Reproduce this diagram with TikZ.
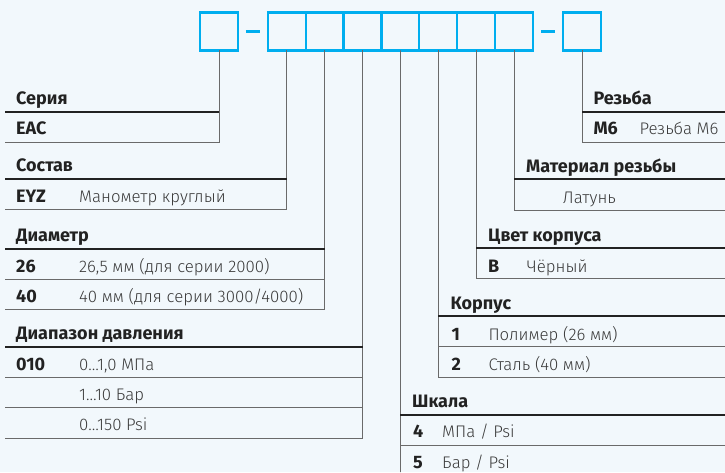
\documentclass[tikz,border=0pt]{standalone}
\usepackage{fontspec}
\setmainfont{Fira Sans}
\newfontfamily\lightf{Fira Sans Light}
\usetikzlibrary{positioning,calc}
\definecolor{bgC}{HTML}{F2F8FC}
\definecolor{cyanB}{HTML}{00AEEF}
\definecolor{ruleC}{HTML}{6A6A6A}
\definecolor{ink}{HTML}{222222}
\definecolor{soft}{HTML}{3A3A3A}
\newcommand{\ttlf}{\fontsize{18}{20}\selectfont\bfseries}
\newcommand{\valf}{\fontsize{16.8}{20}\selectfont\lightf}
\tikzset{
  cell/.style={draw=cyanB, line width=2.2pt, minimum size=37.9pt, inner sep=0pt, outer sep=0pt},
  dsh/.style={draw=cyanB, line width=2.4pt},
  frm/.style={draw=ruleC, line width=0.8pt},
  hdr/.style={draw=ink, line width=1.8pt},
  ttl/.style={anchor=base west, inner sep=0pt, font=\ttlf, text=ink},
  code/.style={anchor=base west, inner sep=0pt, font=\ttlf, text=ink},
  val/.style={anchor=base west, inner sep=0pt, font=\valf, text=soft},
}
\begin{document}
\begin{tikzpicture}[x=1pt, y=-1pt]
\useasboundingbox[fill=bgC] (0,0) rectangle (725,472);

% ── code boxes ──────────────────────────────────────────────────────────────
\node[cell] (b0) at (219,31.5) {};
\node[cell] (b1) at (286.7,31.5) {};
\node[cell, right=0pt of b1] (b2) {};
\node[cell, right=0pt of b2] (b3) {};
\node[cell, right=0pt of b3] (b4) {};
\node[cell, right=0pt of b4] (b5) {};
\node[cell, right=0pt of b5] (b6) {};
\node[cell, right=0pt of b6] (b7) {};
\node[cell] (b8) at (582,31.5) {};
\draw[dsh] ($(b0.east)+(8,0)$) -- ($(b1.west)+(-8,0)$);
\draw[dsh] ($(b7.east)+(8,0)$) -- ($(b8.west)+(-8,0)$);

% ── left tables ─────────────────────────────────────────────────────────────
% series
\coordinate (serE) at (5,142);
\draw[frm] (b0.south) |- (serE);
\draw[hdr] (5,111.7) -- (219,111.7);
\node[ttl] (serT) at (16,104) {Серия};
\node[code] (serC) at (16,134.5) {EAC};

% composition
\coordinate (sosE) at (5,209.3);
\draw[frm] (b1.south) |- (sosE);
\draw[hdr] (5,179.3) -- (286.7,179.3);
\node[ttl] (sosT) at (16,171.8) {Состав};
\node[code] (sosC) at (16,202) {EYZ};
\node[val] (sosV) at (79,202) {Манометр круглый};

% diameter
\coordinate (diaE) at (5,309);
\draw[frm] (b2.south) |- (diaE);
\draw[hdr] (5,249) -- (324.6,249);
\draw[frm] (5,279.3) -- (324.6,279.3);
\node[ttl] (diaT) at (16,241.3) {Диаметр};
\node[code] (diaC1) at (16,272.3) {26};
\node[val] (diaV1) at (79,272.3) {26,5 мм (для серии 2000)};
\node[code] (diaC2) at (16,302) {40};
\node[val] (diaV2) at (79,302) {40 мм (для серии 3000/4000)};

% pressure range
\coordinate (prsE) at (5,438.3);
\draw[frm] (b3.south) |- (prsE);
\draw[hdr] (5,347) -- (362.5,347);
\draw[frm] (5,377.3) -- (362.5,377.3);
\draw[frm] (5,407.7) -- (362.5,407.7);
\node[ttl] (prsT) at (16,339.7) {Диапазон давления};
\node[code] (prsC) at (16,370) {010};
\node[val] (prsV1) at (79,370) {0…1,0 МПа};
\node[val] (prsV2) at (79,400.3) {1…10 Бар};
\node[val] (prsV3) at (79,430.7) {0…150 Psi};

% ── right tables ────────────────────────────────────────────────────────────
% scale
\coordinate (sclE) at (400.4,472);
\draw[frm] (b4.south) -- (sclE);
\draw[hdr] (400.4,415) -- (725,415);
\draw[frm] (400.4,445.7) -- (725,445.7);
\node[ttl] (sclT) at (412,407.7) {Шкала};
\node[code] (sclC1) at (413,437.3) {4};
\node[val] (sclV1) at (442,437.3) {МПа / Psi};
\node[code] (sclC2) at (413,468.3) {5};
\node[val] (sclV2) at (442,468.3) {Бар / Psi};

% body
\coordinate (bodE) at (725,377.3);
\draw[frm] (b5.south) |- (bodE);
\draw[hdr] (438.3,315.7) -- (725,315.7);
\draw[frm] (438.3,346.7) -- (725,346.7);
\node[ttl] (bodT) at (450.5,309) {Корпус};
\node[code] (bodC1) at (451.5,340) {1};
\node[val] (bodV1) at (488.3,340) {Полимер (26 мм)};
\node[code] (bodC2) at (451.5,370.7) {2};
\node[val] (bodV2) at (488.3,370.7) {Сталь (40 мм)};

% body colour
\coordinate (colE) at (725,278.7);
\draw[frm] (b6.south) |- (colE);
\draw[hdr] (476.2,247.7) -- (725,247.7);
\node[ttl] (colT) at (488,241.3) {Цвет корпуса};
\node[code] (colC) at (488,272) {B};
\node[val] (colV) at (526.7,272) {Чёрный};

% thread material
\coordinate (matE) at (725,210);
\draw[frm] (b7.south) |- (matE);
\draw[hdr] (514.1,179.3) -- (725,179.3);
\node[ttl] (matT) at (526,172.3) {Материал резьбы};
\node[val] (matV) at (562.7,203.3) {Латунь};

% thread
\coordinate (thrE) at (725,142);
\draw[frm] (b8.south) |- (thrE);
\draw[hdr] (582,111.7) -- (725,111.7);
\node[ttl] (thrT) at (593.3,104) {Резьба};
\node[code] (thrC) at (593.3,134.3) {M6};
\node[val] (thrV) at (639.3,134.3) {Резьба M6};

\end{tikzpicture}
\end{document}
